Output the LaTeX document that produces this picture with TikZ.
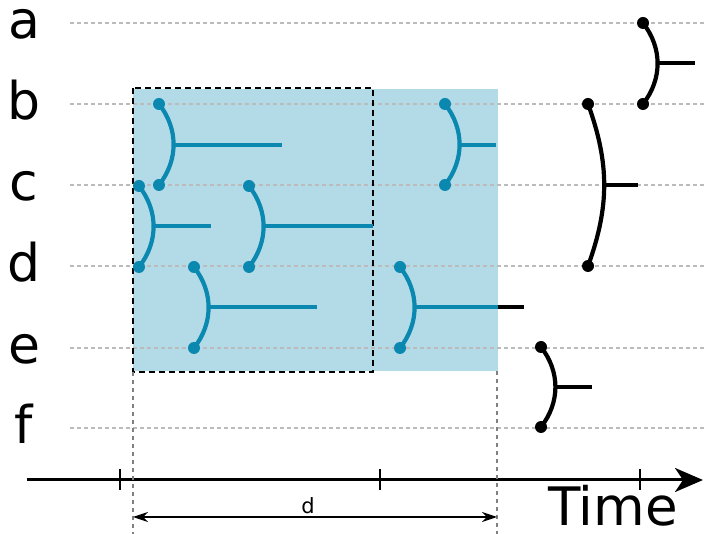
\documentclass[tikz,border=0pt]{standalone}
\usepackage{fontspec}
\setmainfont{DejaVu Sans}
\usetikzlibrary{arrows.meta}
\definecolor{mblue}{HTML}{0A88B0}
\definecolor{winblue}{HTML}{B3DBE7}
\definecolor{rowgray}{HTML}{BBBBBB}
\definecolor{guidegray}{HTML}{808080}

\begin{document}
\begin{tikzpicture}[
  x=1pt, y=-1pt,
  rowline/.style={rowgray, line width=1.3pt, dash pattern=on 4pt off 3pt},
  guide/.style={guidegray, line width=1.3pt, dash pattern=on 4pt off 4pt},
  rowlabel/.style={font=\fontsize{52}{60}\selectfont, anchor=base, inner sep=0pt},
  mdot/.style={circle, fill=#1, inner sep=0pt, minimum size=12pt},
  mline/.style={draw=#1, line width=4.2pt},
  tick/.style={line width=2.2pt},
]
\useasboundingbox (0,0) rectangle (705,534);

% Window
\fill[winblue] (133,89) rectangle (498,371);

% Rows
\foreach \lab/\y in {a/23, b/104, c/185, d/266, e/348, f/428} {
  \node[rowlabel] (lbl-\lab) at (24,\y+16) {\lab};
  \draw[rowline] (70,\y) -- (705,\y);
}

% Dashed window
\draw[black, line width=2.2pt, dash pattern=on 6pt off 4pt] (133,88) rectangle (373,372);

% =============================================
% Merges inside the window
% =============================================
\node[mdot=mblue] (m1a) at (159,104) {};
\node[mdot=mblue] (m1b) at (159,185) {};
\coordinate (m1k) at (173,145);
\coordinate (m1e) at (282,145);
\draw[mline=mblue] (m1a.center) to[bend left=38] (m1b.center);
\draw[mline=mblue] (m1k) -- (m1e);

\node[mdot=mblue] (m2a) at (139,186) {};
\node[mdot=mblue] (m2b) at (139,267) {};
\coordinate (m2k) at (153,226);
\coordinate (m2e) at (211,226);
\draw[mline=mblue] (m2a.center) to[bend left=38] (m2b.center);
\draw[mline=mblue] (m2k) -- (m2e);

\node[mdot=mblue] (m3a) at (249,186) {};
\node[mdot=mblue] (m3b) at (249,267) {};
\coordinate (m3k) at (263,226);
\coordinate (m3e) at (373,226);
\draw[mline=mblue] (m3a.center) to[bend left=38] (m3b.center);
\draw[mline=mblue] (m3k) -- (m3e);

\node[mdot=mblue] (m4a) at (194,267) {};
\node[mdot=mblue] (m4b) at (194,348) {};
\coordinate (m4k) at (208,307);
\coordinate (m4e) at (317,307);
\draw[mline=mblue] (m4a.center) to[bend left=38] (m4b.center);
\draw[mline=mblue] (m4k) -- (m4e);

\node[mdot=mblue] (m5a) at (445,104) {};
\node[mdot=mblue] (m5b) at (445,185) {};
\coordinate (m5k) at (459,145);
\coordinate (m5e) at (496,145);
\draw[mline=mblue] (m5a.center) to[bend left=38] (m5b.center);
\draw[mline=mblue] (m5k) -- (m5e);

\node[mdot=mblue] (m6a) at (400,267) {};
\node[mdot=mblue] (m6b) at (400,348) {};
\coordinate (m6k) at (414,307);
\coordinate (m6w) at (498,307);
\coordinate (m6e) at (524,307);
\draw[mline=mblue] (m6a.center) to[bend left=38] (m6b.center);
\draw[mline=mblue] (m6k) -- (m6w);
\draw[mline=black] (m6w) -- (m6e);

% =============================================
% Merges after the window
% =============================================
\node[mdot=black] (m7a) at (643,23) {};
\node[mdot=black] (m7b) at (643,104) {};
\coordinate (m7k) at (657,63);
\coordinate (m7e) at (695,63);
\draw[mline=black] (m7a.center) to[bend left=38] (m7b.center);
\draw[mline=black] (m7k) -- (m7e);

\node[mdot=black] (m8a) at (588,104) {};
\node[mdot=black] (m8b) at (588,266) {};
\coordinate (m8k) at (602,185);
\coordinate (m8e) at (638,185);
\draw[mline=black] (m8a.center) to[bend left=20] (m8b.center);
\draw[mline=black] (m8k) -- (m8e);

\node[mdot=black] (m9a) at (541,347) {};
\node[mdot=black] (m9b) at (541,427) {};
\coordinate (m9k) at (555,387);
\coordinate (m9e) at (592,387);
\draw[mline=black] (m9a.center) to[bend left=38] (m9b.center);
\draw[mline=black] (m9k) -- (m9e);

% =============================================
% Time axis
% =============================================
\coordinate (t0) at (27,480);
\coordinate (t1) at (703,480);
\draw[line width=3pt, -{Stealth[length=28pt, width=24pt, inset=8pt]}] (t0) -- (t1);
\foreach \x in {120, 380, 640}
  \draw[tick] (\x,469) -- (\x,490);
\node[font=\fontsize{53}{60}\selectfont, anchor=base west, inner sep=0pt] (time) at (548,526) {Time};

% Window width
\coordinate (g1) at (133,372);
\coordinate (g2) at (497,371);
\draw[guide] (g1) -- (133,534);
\draw[guide] (g2) -- (497,534);
\coordinate (d1) at (133,517);
\coordinate (d2) at (497,517);
\draw[line width=1.2pt, {Stealth[length=15pt, width=10pt]}-{Stealth[length=15pt, width=10pt]}] (d1) -- (d2);
\node[font=\fontsize{21}{24}\selectfont, anchor=base, inner sep=0pt] (dlbl) at (308,514) {d};

\end{tikzpicture}
\end{document}
